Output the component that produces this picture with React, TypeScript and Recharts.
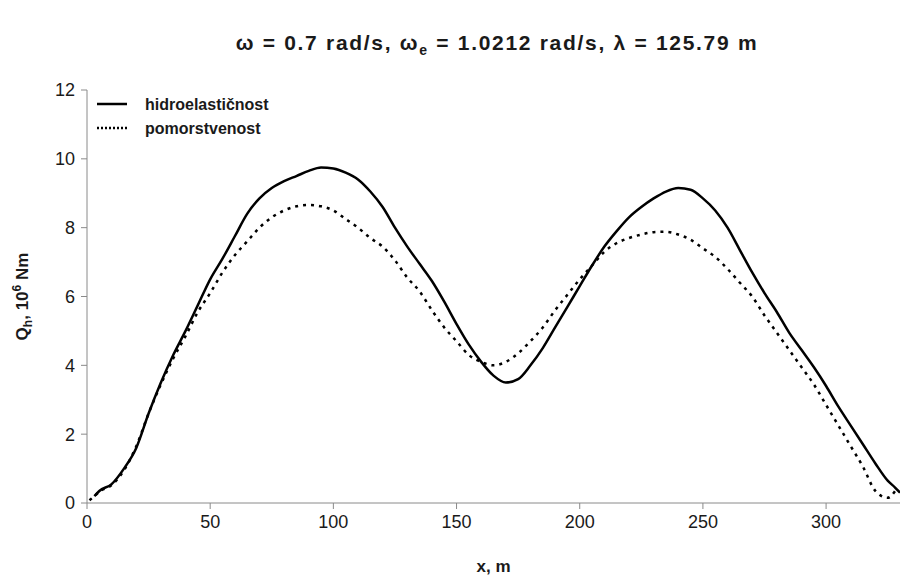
import React from 'react';
import { LineChart, Line, XAxis, YAxis } from 'recharts';

// x positions along the hull (m)
const X_POS = [
  1, 3, 5, 10, 15, 20, 25, 30, 35, 40, 45, 50, 55, 60, 65, 70, 75, 80, 85, 90, 95,
  100, 105, 110, 115, 120, 125, 130, 135, 140, 145, 150, 155, 160, 165, 170, 175,
  180, 185, 190, 195, 200, 205, 210, 215, 220, 225, 230, 235, 240, 245, 250, 255,
  260, 265, 270, 275, 280, 285, 290, 295, 300, 305, 310, 315, 320, 325, 328, 330,
];

// Q_h, 10^6 Nm
const HIDRO = [
  null, 0.2, 0.35, 0.55, 1.0, 1.6, 2.6, 3.5, 4.3, 5.0, 5.75, 6.5, 7.1, 7.75, 8.4, 8.85, 9.15,
  9.35, 9.5, 9.65, 9.75, 9.72, 9.6, 9.4, 9.05, 8.6, 8.0, 7.45, 6.95, 6.45, 5.85,
  5.2, 4.6, 4.1, 3.7, 3.5, 3.6, 4.0, 4.5, 5.1, 5.7, 6.3, 6.9, 7.45, 7.9, 8.3, 8.6,
  8.85, 9.05, 9.15, 9.1, 8.85, 8.5, 8.0, 7.35, 6.7, 6.1, 5.55, 4.95, 4.45, 3.95,
  3.4, 2.8, 2.25, 1.7, 1.15, 0.65, 0.45, 0.3,
];

const POMOR = [
  0.08, 0.2, 0.33, 0.52, 0.95, 1.65, 2.6, 3.45, 4.2, 4.85, 5.55, 6.1, 6.7, 7.2, 7.6, 8.0, 8.3,
  8.5, 8.62, 8.66, 8.62, 8.5, 8.25, 8.0, 7.7, 7.45, 7.05, 6.55, 6.15, 5.6, 5.1,
  4.7, 4.3, 4.1, 4.0, 4.1, 4.35, 4.7, 5.1, 5.6, 6.05, 6.5, 6.9, 7.3, 7.55, 7.7, 7.8,
  7.87, 7.88, 7.8, 7.65, 7.4, 7.15, 6.8, 6.4, 6.0, 5.45, 4.95, 4.45, 3.95, 3.45,
  2.85, 2.25, 1.65, 1.05, 0.35, 0.15, 0.35, null,
];

const X_TICKS = [0, 50, 100, 150, 200, 250, 300];
const Y_TICKS = [0, 2, 4, 6, 8, 10, 12];

const data = X_POS.map((x, i) => ({ x, hidro: HIDRO[i], pomor: POMOR[i] }));

const FONT = '"Liberation Sans", Arial, sans-serif';
const INK = '#1a1a1a';
const AXIS = '#8a8a8a';

// legend drawn as an overlay so it doesn't eat plot space
function LegendBox() {
  return (
    <svg width={260} height={56} style={{ position: 'absolute', left: 95, top: 92 }}>
      <line x1={2} y1={12} x2={32} y2={12} stroke="#000" strokeWidth={2.5} />
      <text x={50} y={18} fontFamily={FONT} fontSize={16} fontWeight="bold" fill={INK}>
        hidroelastičnost
      </text>
      <line x1={2} y1={36} x2={32} y2={36} stroke="#000" strokeWidth={2.5} strokeDasharray="2 2" />
      <text x={50} y={42} fontFamily={FONT} fontSize={16} fontWeight="bold" fill={INK}>
        pomorstvenost
      </text>
    </svg>
  );
}

function YTitle({ viewBox }: any) {
  const cx = 28;
  const cy = viewBox.y + viewBox.height / 2;
  return (
    <text
      x={cx}
      y={cy}
      transform={`rotate(-90, ${cx}, ${cy})`}
      textAnchor="middle"
      fontFamily={FONT}
      fontSize={17}
      fontWeight="bold"
      fill={INK}
    >
      Q<tspan fontSize={12} dy={4}>h</tspan>
      <tspan dy={-4}>, 10</tspan>
      <tspan fontSize={12} dy={-7}>6</tspan>
      <tspan dy={7}> Nm</tspan>
    </text>
  );
}

export default function App() {
  return (
    <div style={{ position: 'absolute', left: 0, top: 0, width: 901, height: 581, background: '#fff' }}>
      <div
        style={{
          position: 'absolute',
          left: 0,
          top: 31,
          width: 994,
          textAlign: 'center',
          fontFamily: FONT,
          fontSize: 21,
          letterSpacing: 1.7,
          fontWeight: 'bold',
          color: INK,
        }}
      >
        ω = 0.7 rad/s, ω<sub style={{ fontSize: 14 }}>e</sub> = 1.0212 rad/s, λ = 125.79 m
      </div>
      <LineChart width={901} height={581} data={data} margin={{ top: 90, right: 1, bottom: 0, left: 0 }}>
        <XAxis
          dataKey="x"
          type="number"
          domain={[0, 330]}
          ticks={X_TICKS}
          allowDataOverflow
          height={78}
          stroke={AXIS}
          tickSize={6}
          tick={{ fill: INK, fontSize: 18, fontFamily: FONT }}
          tickMargin={6}
          label={{
            value: 'x, m',
            position: 'insideBottom',
            offset: 9,
            style: { fill: INK, fontSize: 17, fontWeight: 'bold', fontFamily: FONT },
          }}
        />
        <YAxis
          type="number"
          domain={[0, 12]}
          ticks={Y_TICKS}
          width={87}
          stroke={AXIS}
          tickSize={6}
          tick={{ fill: INK, fontSize: 18, fontFamily: FONT }}
          tickMargin={6}
          label={<YTitle />}
        />
        <Line
          type="monotone"
          dataKey="hidro"
          stroke="#000"
          strokeWidth={2.5}
          dot={false}
          connectNulls
          isAnimationActive={false}
        />
        <Line
          type="monotone"
          dataKey="pomor"
          stroke="#000"
          strokeWidth={2.5}
          strokeDasharray="3 5"
          dot={false}
          connectNulls
          isAnimationActive={false}
        />
      </LineChart>
      <LegendBox />
    </div>
  );
}
